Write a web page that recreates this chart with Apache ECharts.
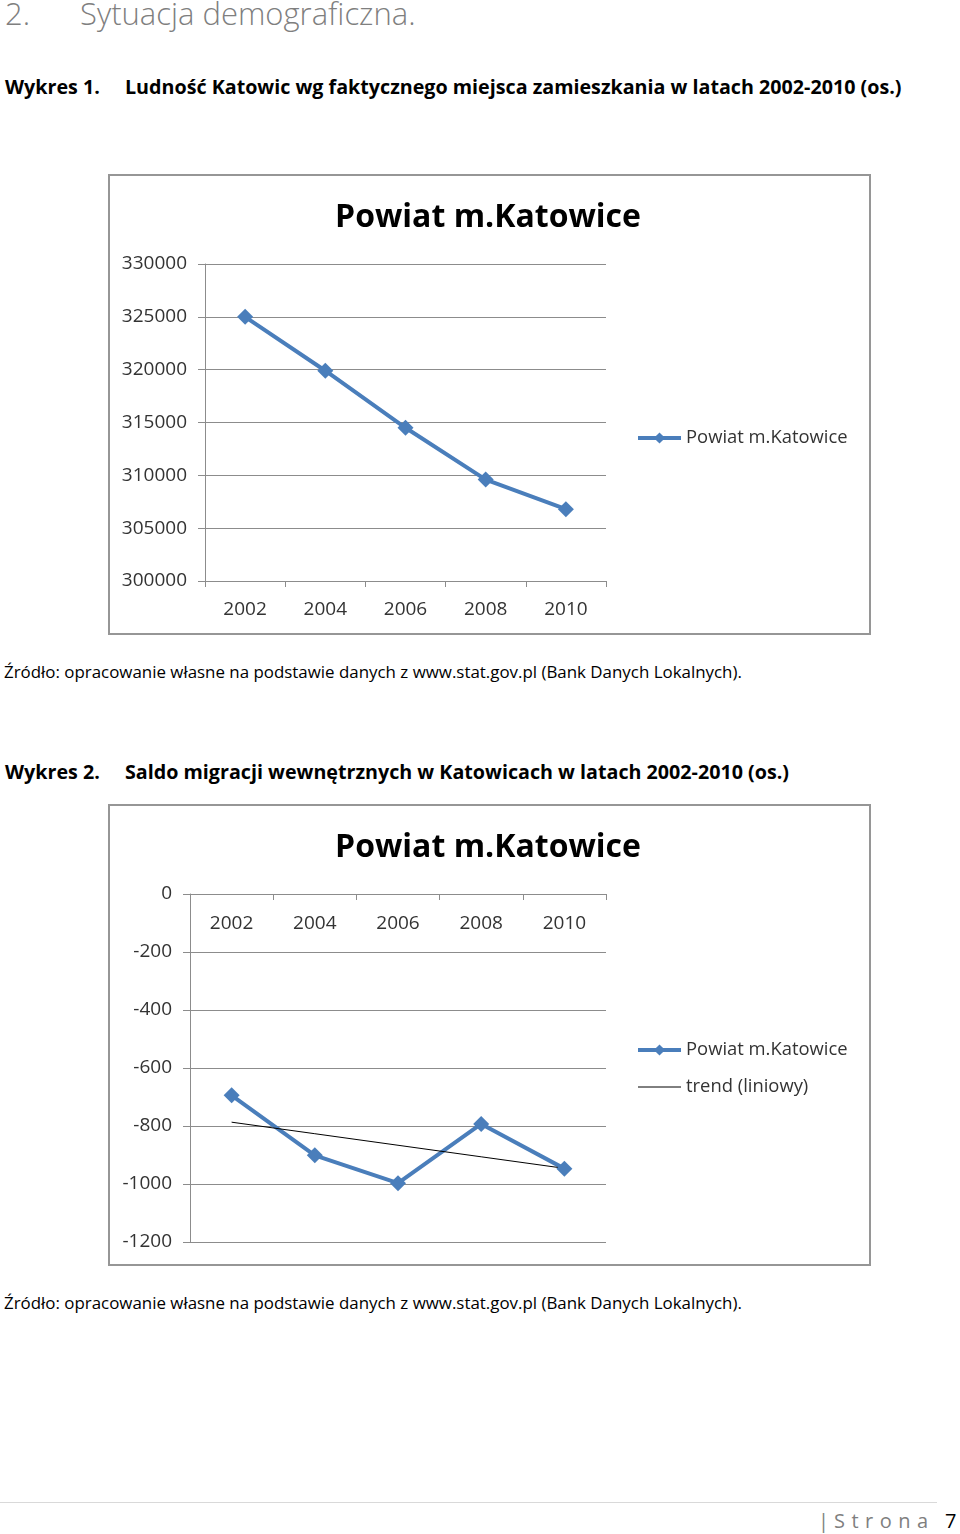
<!DOCTYPE html>
<html lang="pl">
<head>
<meta charset="utf-8">
<title>Sytuacja demograficzna</title>
<script src="https://cdn.jsdelivr.net/npm/echarts@6/dist/echarts.min.js"></script>
<style>
  body { margin: 0; background: #fff; font-family: "Open Sans", sans-serif; }
  #page { position: relative; width: 960px; height: 1534px; overflow: hidden; }
  .t { position: absolute; white-space: nowrap; line-height: 1.362; color: #000; }
  .chart { position: absolute; left: 108px; width: 763px; height: 461px; box-sizing: border-box; border: 2px solid #969696; }
  .rule { position: absolute; left: 0; top: 1502px; width: 937px; height: 1px; background: #d9d9d9; }
</style>
</head>
<body>
<div id="page">
  <div class="t" style="left:5px; top:-8px; font-size:31px; font-weight:300; color:#7f7f7f;">2.</div>
  <div class="t" style="left:80px; top:-8px; font-size:31px; font-weight:300; color:#7f7f7f;">Sytuacja demograficzna.</div>

  <div class="t" style="left:5px; top:74px; font-size:19.7px; font-weight:700;">Wykres 1.</div>
  <div class="t" style="left:125px; top:74px; font-size:19.7px; font-weight:700;">Ludność Katowic wg faktycznego miejsca zamieszkania w latach 2002-2010 (os.)</div>
  <div id="chart1" class="chart" style="top:174px;"></div>
  <div class="t" style="left:4px; top:660px; font-size:16.9px;">Źródło: opracowanie własne na podstawie danych z www.stat.gov.pl (Bank Danych Lokalnych).</div>

  <div class="t" style="left:5px; top:759px; font-size:19.7px; font-weight:700;">Wykres 2.</div>
  <div class="t" style="left:125px; top:759px; font-size:19.7px; font-weight:700;">Saldo migracji wewnętrznych w Katowicach w latach 2002-2010 (os.)</div>
  <div id="chart2" class="chart" style="top:804px; height:462px;"></div>
  <div class="t" style="left:4px; top:1291px; font-size:16.9px;">Źródło: opracowanie własne na podstawie danych z www.stat.gov.pl (Bank Danych Lokalnych).</div>

  <div class="rule"></div>
  <div class="t" style="left:818px; top:1507px; font-size:20px; color:#7f7f7f;">|</div>
  <div class="t" style="left:834px; top:1507px; font-size:20px; color:#7f7f7f; letter-spacing:6.5px;">Strona</div>
  <div class="t" style="left:945px; top:1507px; font-size:20px;">7</div>
</div>

<script>
// dane
const years = ["2002", "2004", "2006", "2008", "2010"];
const ludnosc = [325000, 319900, 314500, 309600, 306800];
const saldo = [-694, -901, -997, -793, -947];

const seriesName = "Powiat m.Katowice";
const trendName = "trend (liniowy)";
const blue = "#4a7ebb";
const gridGray = "#8c8c8c";
const font = "'Open Sans', sans-serif";

// trend liniowy (metoda najmniejszych kwadratow), jak w Excelu
const linearTrend = (values) => {
  const n = values.length;
  const mx = (n - 1) / 2;
  const my = values.reduce((a, b) => a + b, 0) / n;
  let num = 0;
  let den = 0;
  values.forEach((v, i) => {
    num += (i - mx) * (v - my);
    den += (i - mx) * (i - mx);
  });
  const slope = num / den;
  return values.map((_, i) => +(my + slope * (i - mx)).toFixed(1));
};

const baseTitle = {
  text: seriesName,
  left: 378,
  top: 26,
  padding: 0,
  textAlign: "center",
  textStyle: { fontFamily: font, fontSize: 32, fontWeight: "bold", color: "#000" }
};

const legendText = { fontFamily: font, fontSize: 18.4, color: "#333", lineHeight: 14 };

const valueAxis = (min, max, interval) => ({
  type: "value",
  min: min,
  max: max,
  interval: interval,
  axisLine: { show: true, lineStyle: { color: gridGray, width: 1 } },
  axisTick: { show: true, length: 7, lineStyle: { color: gridGray } },
  axisLabel: {
    margin: 18,
    padding: [4, 0, 0, 0],
    fontFamily: font,
    fontSize: 19,
    color: "#333",
    formatter: (v) => String(v)
  },
  splitLine: { show: true, lineStyle: { color: gridGray, width: 1 } }
});

const mainSeries = (data) => ({
  name: seriesName,
  type: "line",
  data: data,
  symbol: "diamond",
  symbolSize: 16,
  lineStyle: { color: blue, width: 4 },
  itemStyle: { color: blue },
  animation: false
});

const chart1 = echarts.init(document.getElementById("chart1"));
chart1.setOption({
  animation: false,
  textStyle: { fontFamily: font },
  title: baseTitle,
  grid: { left: 95, top: 88, width: 401, height: 317 },
  legend: {
    data: [seriesName],
    left: 526,
    top: 253,
    padding: 0,
    itemWidth: 43,
    itemHeight: 14,
    lineStyle: { width: "inherit" },
    textStyle: legendText
  },
  xAxis: {
    type: "category",
    data: years,
    boundaryGap: true,
    axisLine: { lineStyle: { color: gridGray } },
    axisTick: { show: true, length: 6, lineStyle: { color: gridGray } },
    axisLabel: { margin: 19, fontFamily: font, fontSize: 19, color: "#333" }
  },
  yAxis: valueAxis(300000, 330000, 5000),
  series: [mainSeries(ludnosc)]
});

const chart2 = echarts.init(document.getElementById("chart2"));
chart2.setOption({
  animation: false,
  textStyle: { fontFamily: font },
  title: baseTitle,
  grid: { left: 80, top: 88, width: 416, height: 348 },
  legend: {
    data: [
      seriesName,
      { name: trendName, itemStyle: { opacity: 0 } }
    ],
    orient: "vertical",
    left: 526,
    top: 235,
    padding: 0,
    itemGap: 19,
    itemWidth: 43,
    itemHeight: 14,
    lineStyle: { width: "inherit" },
    textStyle: legendText
  },
  xAxis: {
    type: "category",
    data: years,
    position: "top",
    boundaryGap: true,
    axisLine: { lineStyle: { color: gridGray } },
    axisTick: { show: true, inside: true, length: 6, lineStyle: { color: gridGray } },
    axisLabel: { inside: true, margin: 20, fontFamily: font, fontSize: 19, color: "#333" }
  },
  yAxis: valueAxis(-1200, 0, 200),
  series: [
    mainSeries(saldo),
    {
      name: trendName,
      type: "line",
      data: linearTrend(saldo),
      symbol: "none",
      lineStyle: { color: "#000", width: 1 },
      itemStyle: { color: "#000" },
      z: 3,
      animation: false
    }
  ]
});
</script>
</body>
</html>
